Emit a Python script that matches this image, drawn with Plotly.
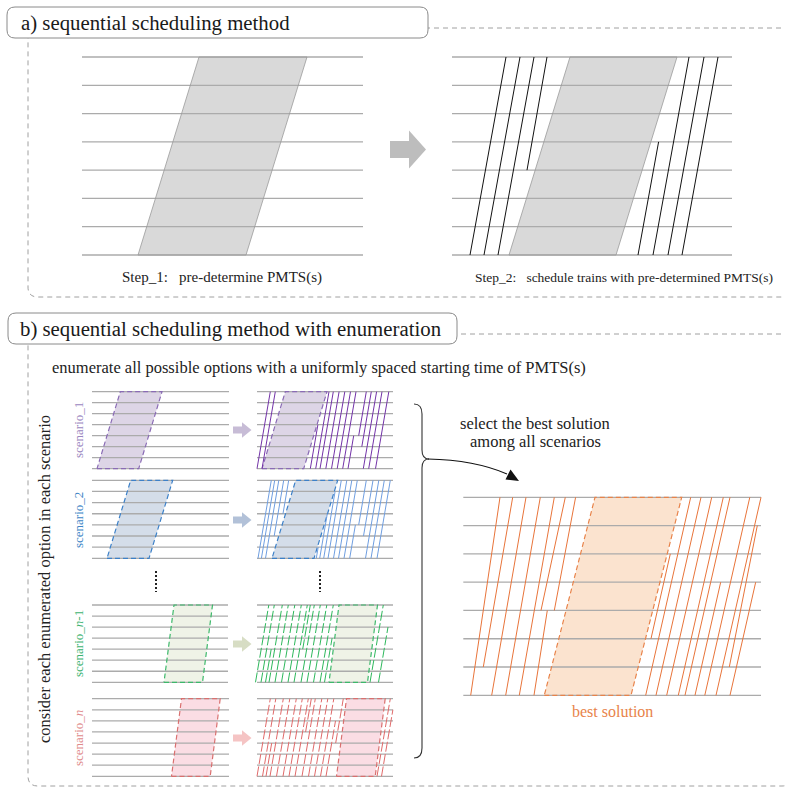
import plotly.graph_objects as go

FIG_W, FIG_H = 785, 788
N_SEC = 7  # 8 stations -> 7 sections

# ---------------- data ----------------
# Panel geometry is layout; values below are timetable data (time units, station index 0..7)

# a) PMTS windows: start time at first station, duration, run-time shift to last station
a1_pmts = (56, 108, 61)
a2_pmts = (57, 107, 61)
# a) step-2 trains: departure time, departure station, arrival time, arrival station
a2_dep_t = [18, 32, 46, 75, 186, 201, 216, 230]
a2_dep_s = [0, 0, 0, 3, 0, 0, 0, 0]
a2_arr_t = [54, 68, 82, 95, 206.6, 237, 252, 266]
a2_arr_s = [7, 7, 7, 7, 4, 7, 7, 7]

# b) scenarios: PMTS window per scenario
s1_pmts = (5, 41.7, 23.3)
s2_pmts = (15, 42, 23.7)
sn1_pmts = (72, 38.5, 10)
sn_pmts = (79.5, 38.7, 10)
scen_run = 13.3  # train running time over all sections

# scenario trains: time at first station, from station, to station
s1_t0 = [0, 5, 53.3, 58.7, 63, 68.8, 74.5, 80.2, 85.7, 91, 96, 101, 106.3, 111.7, 118.5]
s1_from = [0, 0, 0, 0, 0, 0, 0, 0, 0, 0, 3, 2, 0, 0, 0]
s1_to = [7, 7, 4, 7, 7, 7, 7, 7, 7, 3, 7, 7, 7, 7, 7]

s2_t0 = [1, 4.4, 8.5, 13.4, 18.4, 59.3, 62.7, 66.7, 71, 76.5, 81.5, 87, 92.7, 96, 102.7, 108.5, 114, 120]
s2_from = [0, 0, 0, 2, 4, 0, 0, 0, 0, 0, 0, 0, 0, 3, 2, 0, 0, 0]
s2_to = [7, 7, 7, 7, 7, 1, 4, 6, 7, 7, 7, 7, 3, 7, 7, 7, 7, 7]

sn1_t0 = [-1.5, 4, 8.5, 12, 18, 24.5, 31, 37, 40, 44, 50, 56.5, 63, 67.5, 113, 121.5]
sn1_from = [0, 0, 0, 0, 0, 0, 0, 0, 3, 0, 0, 0, 0, 0, 0, 0]
sn1_to = [7, 7, 3, 7, 7, 7, 7, 7, 7, 7, 7, 7, 7, 4, 7, 5]

sn_t0 = [0, 5.5, 9, 13, 19.5, 26, 32, 38, 41, 45, 51.5, 57.5, 63.5, 69, 73, 120, 124.5]
sn_from = [0, 0, 0, 0, 0, 0, 0, 0, 4, 0, 0, 0, 0, 0, 3, 0, 0]
sn_to = [7, 7, 3, 7, 7, 7, 7, 7, 7, 7, 7, 7, 7, 5, 7, 7, 6]

# best solution
best_pmts = (81, 86.7, 50.7)
best_dep_t = [7.4, 20, 28.4, 42.4, 56, 70.7, 77.7, 91,
              182.4, 187.7, 192.7, 203.4, 215, 221.7, 231.7, 241.5, 252.7, 266.7, 266]
best_dep_s = [0, 1, 0, 0, 0, 0, 3, 3,
              0, 2, 0, 0, 0, 0, 0, 0, 0, 0, 1]
best_arr_t = [36.7, 49.4, 62.7, 77, 91, 84, 102, 112.3,
              227.4, 207, 237.7, 248.4, 260, 266.7, 257.4, 286.5, 297.7, 292.4, 294]
best_arr_s = [7, 7, 7, 7, 7, 3, 7, 7,
              7, 5, 7, 7, 7, 7, 4, 7, 7, 4, 6]

# ---------------- layout constants ----------------
PANELS = {
    'a1': (82, 57, 281, 198),
    'a2': (452, 57, 280, 198),
    's1L': (92, 391.7, 137, 77), 's1R': (257, 391.7, 136, 77),
    's2L': (92, 480.3, 137, 78), 's2R': (257, 480.3, 136, 78),
    'sn1L': (92, 605, 136, 77.3), 'sn1R': (257, 605, 136, 77.3),
    'snL': (92, 698.7, 137, 77.6), 'snR': (257, 698.7, 136, 77.6),
    'best': (463.3, 497.3, 297.7, 198),
}
PAD = 4
SERIF = "'Liberation Serif', 'Times New Roman', Times, 'DejaVu Serif', serif"
GRID = "#ababab"

fig = go.Figure()
layout_axes = {}
axis_ids = {}
for i, (name, (left, top, w, h)) in enumerate(PANELS.items(), start=1):
    sec = h / N_SEC
    sfx = '' if i == 1 else str(i)
    axis_ids[name] = ('x' + sfx, 'y' + sfx)
    layout_axes['xaxis' + sfx] = dict(domain=[(left - PAD) / FIG_W, (left + w + PAD) / FIG_W],
                                      range=[-PAD, w + PAD], visible=False, anchor='y' + sfx,
                                      fixedrange=True)
    layout_axes['yaxis' + sfx] = dict(domain=[1 - (top + h + PAD) / FIG_H, 1 - (top - PAD) / FIG_H],
                                      range=[-PAD / sec, N_SEC + PAD / sec], visible=False,
                                      anchor='x' + sfx, fixedrange=True)
deco = len(PANELS) + 1
layout_axes['xaxis%d' % deco] = dict(domain=[0, 1], range=[0, FIG_W], visible=False,
                                     anchor='y%d' % deco, fixedrange=True)
layout_axes['yaxis%d' % deco] = dict(domain=[0, 1], range=[FIG_H, 0], visible=False,
                                     anchor='x%d' % deco, fixedrange=True)
DX, DY = 'x%d' % deco, 'y%d' % deco


def add(name, **kw):
    xa, ya = axis_ids[name]
    fig.add_trace(go.Scatter(xaxis=xa, yaxis=ya, mode='lines', hoverinfo='skip',
                             showlegend=False, **kw))


def draw_panel(name, pmts, fill, border, border_dash, border_w=1.2):
    w = PANELS[name][2]
    t, d, sh = pmts
    px = [t, t + d, t + d + sh, t + sh, t]
    py = [0, 0, N_SEC, N_SEC, 0]
    add(name, x=px, y=py, fill='toself', fillcolor=fill, line=dict(width=0))
    xs, ys = [], []
    for s in range(N_SEC + 1):
        xs += [0, w, None]
        ys += [s, s, None]
    add(name, x=xs, y=ys, line=dict(color=GRID, width=1.3))
    add(name, x=px, y=py, line=dict(color=border, width=border_w, dash=border_dash))


def draw_trains_t0(name, t0s, froms, tos, run, color, width=1.0, dash='solid'):
    xs, ys = [], []
    for t0, a, b in zip(t0s, froms, tos):
        xs += [t0 + a * run / N_SEC, t0 + b * run / N_SEC, None]
        ys += [a, b, None]
    add(name, x=xs, y=ys, line=dict(color=color, width=width, dash=dash))


def draw_trains(name, dt, ds, at, as_, color, width=1.0, dash='solid'):
    xs, ys = [], []
    for a, b, c, d in zip(dt, ds, at, as_):
        xs += [a, c, None]
        ys += [b, d, None]
    add(name, x=xs, y=ys, line=dict(color=color, width=width, dash=dash))


# a)
draw_panel('a1', a1_pmts, '#d9d9d9', '#9a9a9a', 'solid', 0.8)
draw_panel('a2', a2_pmts, '#d9d9d9', '#9a9a9a', 'solid', 0.8)
draw_trains('a2', a2_dep_t, a2_dep_s, a2_arr_t, a2_arr_s, '#111111', 1.0)

# b) scenarios
SC = {
    's1': dict(pmts=s1_pmts, fill='#ddd5e6', border='#8a6bb5', line='#7333a8', dash='solid',
               data=(s1_t0, s1_from, s1_to)),
    's2': dict(pmts=s2_pmts, fill='#d4dde9', border='#3c80c8', line='#6f9ee0', dash='solid',
               data=(s2_t0, s2_from, s2_to)),
    'sn1': dict(pmts=sn1_pmts, fill='#eff3e7', border='#3cb86a', line='#2eb85c', dash='10px,2.5px',
                data=(sn1_t0, sn1_from, sn1_to)),
    'sn': dict(pmts=sn_pmts, fill='#fbdde4', border='#d9706f', line='#e06a6a', dash='10px,2.5px',
               data=(sn_t0, sn_from, sn_to)),
}
for key, c in SC.items():
    draw_panel(key + 'L', c['pmts'], c['fill'], c['border'], '5px,3px', 1.2)
    draw_panel(key + 'R', c['pmts'], c['fill'], c['border'], '5px,3px', 1.2)
    draw_trains_t0(key + 'R', *c['data'], scen_run, c['line'], 1.0, c['dash'])

# best
draw_panel('best', best_pmts, '#fbe3cf', '#e8834a', '5px,3px', 1.2)
draw_trains('best', best_dep_t, best_dep_s, best_arr_t, best_arr_s, '#e8743a', 1.0)

# ---------------- decorations ----------------
shapes = []


def rrect(x0, y0, x1, y1, r):
    return (f"M {x0+r},{y0} L {x1-r},{y0} Q {x1},{y0} {x1},{y0+r} L {x1},{y1-r} "
            f"Q {x1},{y1} {x1-r},{y1} L {x0+r},{y1} Q {x0},{y1} {x0},{y1-r} "
            f"L {x0},{y0+r} Q {x0},{y0} {x0+r},{y0} Z")


def shp(path, line_color=None, width=1, dash='solid', fill=None):
    d = dict(type='path', path=path, xref=DX, yref=DY, layer='above',
             line=dict(color=line_color or 'rgba(0,0,0,0)', width=width if line_color else 0, dash=dash))
    if fill:
        d['fillcolor'] = fill
    shapes.append(d)


# outer dashed frames
shp(rrect(28, 28, 792, 297, 10), '#a0a0a0', 1, '5px,4px')
shp(rrect(28, 334, 792, 786, 10), '#a0a0a0', 1, '5px,4px')
# header boxes
shp(rrect(7, 7, 428, 38, 8), '#8a8a8a', 1, 'solid', 'white')
shp(rrect(8, 313, 457, 344, 8), '#8a8a8a', 1, 'solid', 'white')


def arrow_path(x0, xm, x1, cy, hb, hh):
    return (f"M {x0},{cy-hb} L {xm},{cy-hb} L {xm},{cy-hh} L {x1},{cy} "
            f"L {xm},{cy+hh} L {xm},{cy+hb} L {x0},{cy+hb} Z")


shp(arrow_path(390, 409, 426, 149.5, 8.5, 19), fill='#bdbdbd')
for cy, col in [(430, '#c7bcd6'), (520, '#b2c1d8'), (644, '#d7ddc4'), (738, '#f5c4c4')]:
    shp(arrow_path(233, 242, 251.5, cy, 3.6, 7.8), fill=col)

# dotted ellipsis
for x in (156, 320):
    shapes.append(dict(type='line', xref=DX, yref=DY, x0=x, x1=x, y0=571, y1=592,
                       line=dict(color='#222', width=2, dash='2px,2px')))

# brace
shp("M 414,404 Q 422,404 422,414 L 422,450 Q 422,459 429,459 Q 422,459 422,468 "
    "L 422,748 Q 422,758 414,758", '#333', 1.1)
# curved arrow
shp("M 428,459 Q 475,460 507,474", '#111', 1.1)
shp("M 519,481 L 505.5,479.5 L 510.5,469.5 Z", fill='#111')

annotations = []


def txt(x, y, s, size, color='#222', xanchor='center', angle=0):
    annotations.append(dict(x=x, y=y, xref=DX, yref=DY, text=s, showarrow=False,
                            xanchor=xanchor, yanchor='middle', textangle=angle,
                            font=dict(family=SERIF, size=size, color=color)))


txt(19, 23, "a) sequential scheduling method", 20.8, '#1a1a1a', 'left')
txt(18, 329, "b) sequential scheduling method with enumeration", 20.8, '#1a1a1a', 'left')
txt(221.7, 277, "Step_1:   pre-determine PMTS(s)", 15)
txt(624, 277, "Step_2:   schedule trains with pre-determined PMTS(s)", 13.5)
txt(50, 367, "enumerate all possible options with a uniformly spaced starting time of PMTS(s)", 16.5,
    '#222', 'left')
txt(44, 579, "consider each enumerated option in each scenario", 16.5, '#222', 'center', -90)
txt(78, 430, "scenario_1", 13, '#9a86c0', 'center', -90)
txt(78, 520, "scenario_2", 13, '#3d85c6', 'center', -90)
txt(78, 644, "scenario_<i>n</i>-1", 13, '#3cb371', 'center', -90)
txt(78, 738, "scenario_<i>n</i>", 13, '#e08a8a', 'center', -90)
txt(535, 423, "select the best solution", 16.5)
txt(535, 441, "among all scenarios", 16.5)
txt(612, 711, "best solution", 16, '#e8834a')

fig.update_layout(width=FIG_W, height=FIG_H, margin=dict(l=0, r=0, t=0, b=0),
                  paper_bgcolor='white', plot_bgcolor='rgba(0,0,0,0)',
                  shapes=shapes, annotations=annotations, **layout_axes)

fig.write_html("out.html", config={'displayModeBar': False},
               post_script="document.body.style.margin='0';document.body.style.overflow='hidden';")
